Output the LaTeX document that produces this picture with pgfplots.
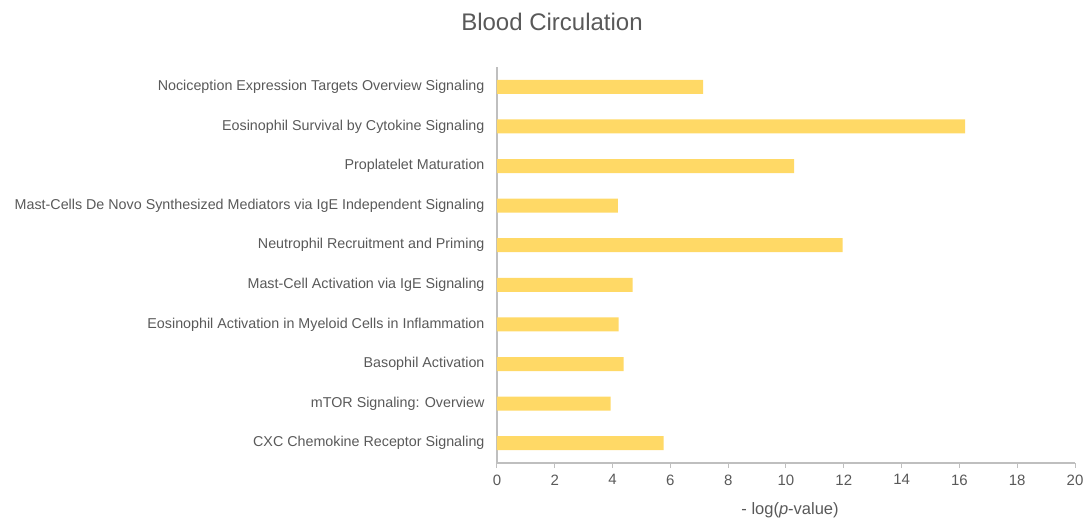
\documentclass[border=0pt]{standalone}
\usepackage{fontspec}
\setmainfont{Liberation Sans}
\usepackage{pgfplots}
\pgfplotsset{compat=1.18}
\definecolor{barfill}{HTML}{FFD966}
\definecolor{txt}{HTML}{595959}
\definecolor{axln}{HTML}{BFBFBF}
\begin{document}
\begin{tikzpicture}
\useasboundingbox (-497pt,-62pt) rectangle (592pt,463pt);
\begin{axis}[
    at={(0,0)}, anchor=south west,
    width=578pt, height=396pt, scale only axis,
    xbar, bar width=14pt,
    xmin=0, xmax=20, xtick={0,2,...,20},
    ymin=-0.5, ymax=9.5, y dir=reverse,
    ytick={0,...,9},
    yticklabels={
        Nociception Expression Targets Overview Signaling,
        Eosinophil Survival by Cytokine Signaling,
        Proplatelet Maturation,
        Mast-Cells De Novo Synthesized Mediators via IgE Independent Signaling,
        Neutrophil Recruitment and Priming,
        Mast-Cell Activation via IgE Signaling,
        Eosinophil Activation in Myeloid Cells in Inflammation,
        Basophil Activation,
        mTOR Signaling: Overview,
        CXC Chemokine Receptor Signaling},
    axis x line*=bottom, axis y line*=left,
    axis line style={-, draw=axln, line width=1.2pt},
    x tick style={draw=axln, line width=1pt},
    xtick align=outside, major tick length=5pt,
    y tick style={draw=none},
    tick label style={text=txt},
    /pgf/number format/assume math mode=true,
    xticklabel style={font=\fontsize{15}{17}\selectfont, yshift=-3pt},
    yticklabel style={font=\fontsize{14.3}{17}\selectfont, xshift=-4pt},
    xlabel={- log(\textit{p}-value)},
    xlabel style={font=\fontsize{16.5}{19}\selectfont, text=txt,
        at={(axis description cs:0.507,0)}, anchor=center, yshift=-47pt},
]
\addplot[draw=none, fill=barfill] coordinates {
    (7.13,0) (16.2,1) (10.28,2) (4.18,3) (11.96,4)
    (4.69,5) (4.21,6) (4.38,7) (3.93,8) (5.77,9)
};
\end{axis}
\node[text=txt, font=\fontsize{24}{28}\selectfont] at (55pt,441pt) {Blood Circulation};
\end{tikzpicture}
\end{document}
